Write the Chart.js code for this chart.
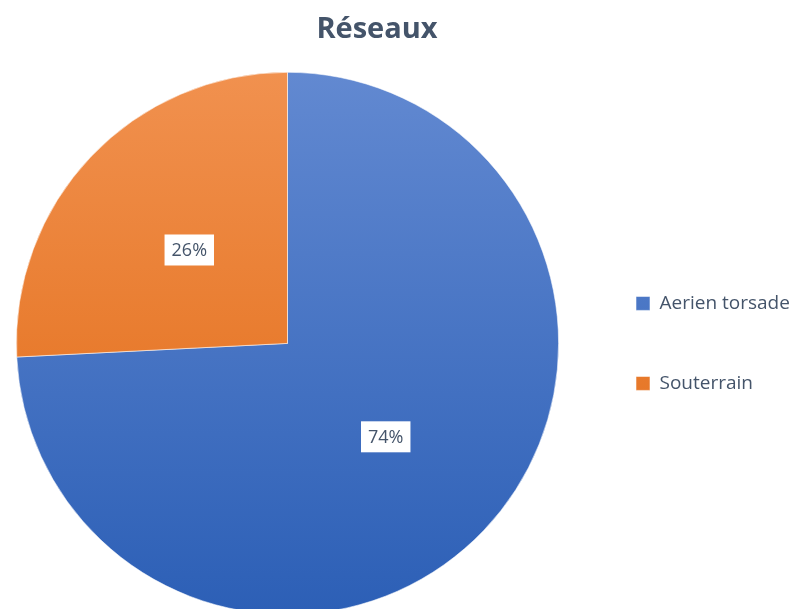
<!DOCTYPE html>
<html>
<head>
<meta charset="utf-8">
<script src="https://cdn.jsdelivr.net/npm/chart.js@4/dist/chart.umd.min.js"></script>
<style>
  html, body { margin: 0; padding: 0; background: #fff; overflow: hidden; }
  #wrap { position: relative; width: 791px; height: 640px; }
</style>
</head>
<body>
<div id="wrap"><canvas id="chart"></canvas></div>
<script>
const labels = ['Aerien torsade', 'Souterrain']
const values = [74.2, 25.8]

const textColor = '#44546a'

// excel-like vertical gradient over the whole pie
const gradTop = ['#6289d1', '#f1914f']
const gradBottom = ['#2c5fb6', '#e0670f']

function sliceFill(context) {
  const chart = context.chart
  const area = chart.chartArea
  if (!area) return gradBottom[context.dataIndex]
  const g = chart.ctx.createLinearGradient(0, area.top, 0, area.bottom)
  g.addColorStop(0, gradTop[context.dataIndex])
  g.addColorStop(1, gradBottom[context.dataIndex])
  return g
}

// percent labels in white boxes
const pctLabels = {
  id: 'pctLabels',
  afterDatasetsDraw(chart) {
    const ctx = chart.ctx
    const meta = chart.getDatasetMeta(0)
    const total = values.reduce((a, b) => a + b, 0)
    ctx.save()
    ctx.font = '18px "Open Sans"'
    ctx.textAlign = 'center'
    ctx.textBaseline = 'middle'
    meta.data.forEach((arc, i) => {
      const p = arc.tooltipPosition()
      const txt = Math.round(values[i] / total * 100) + '%'
      const w = ctx.measureText(txt).width + 14
      const h = 31
      ctx.fillStyle = '#ffffff'
      ctx.fillRect(p.x - w / 2, p.y - h / 2, w, h)
      ctx.fillStyle = textColor
      ctx.fillText(txt, p.x, p.y + 1)
    })
    ctx.restore()
  }
}

// title sits a bit left of the canvas centre in the original
const shiftTitle = {
  id: 'shiftTitle',
  afterLayout(chart) {
    if (chart.titleBlock) chart.titleBlock.right -= 33
  }
}

new Chart(document.getElementById('chart'), {
  type: 'pie',
  data: {
    labels: labels,
    datasets: [{
      data: values,
      backgroundColor: sliceFill,
      borderColor: 'rgba(255,255,255,0.55)',
      borderWidth: 1,
      clip: false
    }]
  },
  options: {
    responsive: true,
    maintainAspectRatio: false,
    animation: false,
    layout: { padding: { left: -4, right: 0, top: 0, bottom: 25 } },
    plugins: {
      title: {
        display: true,
        text: 'Réseaux',
        color: textColor,
        font: { family: '"Open Sans"', size: 29, weight: 'bold' },
        padding: { top: 12, bottom: 25 }
      },
      legend: {
        position: 'right',
        fullSize: false,
        maxWidth: 216,
        labels: {
          color: textColor,
          font: { family: '"Open Sans"', size: 19 },
          boxWidth: 14,
          boxHeight: 14,
          padding: 61
        }
      },
      tooltip: { enabled: false }
    }
  },
  plugins: [pctLabels, shiftTitle]
})
</script>
</body>
</html>
